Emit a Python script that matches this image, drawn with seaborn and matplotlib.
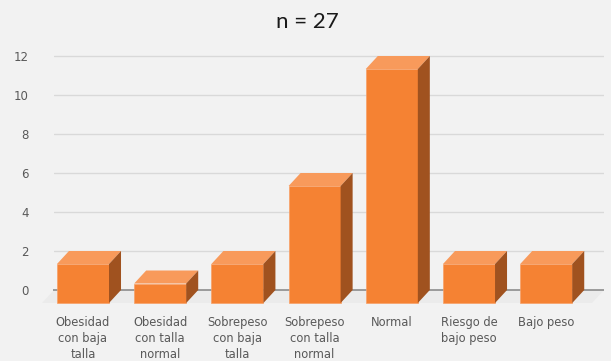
import numpy as np
import pandas as pd
import matplotlib
matplotlib.use("Agg")
import matplotlib.pyplot as plt
import seaborn as sns
from matplotlib.patches import Polygon

# Data
categories = [
    "Obesidad\ncon baja\ntalla",
    "Obesidad\ncon talla\nnormal",
    "Sobrepeso\ncon baja\ntalla",
    "Sobrepeso\ncon talla\nnormal",
    "Normal",
    "Riesgo de\nbajo peso",
    "Bajo peso",
]
counts = [2, 1, 2, 6, 12, 2, 2]
y_ticks = [0, 2, 4, 6, 8, 10, 12]
title = "n = 27"

# Colours for the pseudo-3D bars
FRONT = "#F58233"
TOP = "#F89A5B"
SIDE = "#A0521F"
BG = "#F2F2F2"
FLOOR = "#EBEBEB"
TXT = "#595959"

sns.set_theme(style="white")
plt.rcParams["font.family"] = ["DejaVu Sans"]

W, H = 611, 361
fig = plt.figure(figsize=(W / 100, H / 100), dpi=100, facecolor=BG)

# Axes placed in pixel units of the back wall
left_px, right_px, top_px, bottom_px = 54, 604, 50, 306
zero_px = 290
ax = fig.add_axes([left_px / W, 1 - bottom_px / H,
                   (right_px - left_px) / W, (bottom_px - top_px) / H])
ax.set_facecolor("none")

x_lo, x_hi = -0.531, 6.593
ppu_x = (right_px - left_px) / (x_hi - x_lo)
ppu_y = 19.5
y_lo = -(bottom_px - zero_px) / ppu_y
y_hi = y_lo + (bottom_px - top_px) / ppu_y

# depth of the 3D extrusion, in data units
ddx = 12 / ppu_x
ddy = 13 / ppu_y

df = pd.DataFrame({"categoria": categories, "n": counts})
sns.barplot(data=df, x="categoria", y="n", color=FRONT, width=0.674,
            saturation=1, ax=ax, zorder=3, linewidth=0)

ax.set_xlim(x_lo, x_hi)
ax.set_ylim(y_lo, y_hi)

# back-wall gridlines
for t in y_ticks[1:]:
    ax.axhline(t, color="#D9D9D9", lw=1.0, zorder=0)

# floor
floor = Polygon([(x_lo, 0), (x_hi, 0), (x_hi - ddx, -ddy), (x_lo - ddx, -ddy)],
                closed=True, facecolor=FLOOR, edgecolor="none", zorder=0.5,
                clip_on=False)
ax.add_patch(floor)
ax.plot([x_lo - 0.015, x_hi], [0, 0], color="#8C8C8C", lw=1.2, zorder=1,
        clip_on=False, solid_capstyle="butt")

# turn each flat bar into a box: front face moved forward, top and side added
for p in list(ax.patches):
    if p is floor:
        continue
    x0, w, h = p.get_x(), p.get_width(), p.get_height()
    x1 = x0 + w
    p.set_x(x0 - ddx)
    p.set_y(-ddy)
    p.set_clip_on(False)
    p.set_edgecolor("#F8A066")
    p.set_linewidth(0.5)
    top = Polygon([(x0 - ddx, h - ddy), (x1 - ddx, h - ddy), (x1, h), (x0, h)],
                  closed=True, facecolor=TOP, edgecolor="none", zorder=3,
                  clip_on=False)
    side = Polygon([(x1 - ddx, -ddy), (x1, 0), (x1, h), (x1 - ddx, h - ddy)],
                   closed=True, facecolor=SIDE, edgecolor="none", zorder=3,
                   clip_on=False)
    ax.add_patch(top)
    ax.add_patch(side)

ax.set_yticks(y_ticks)
ax.set_yticklabels([str(t) for t in y_ticks])
ax.set_xticks(np.arange(len(categories)) - ddx)
ax.set_xticklabels(categories, linespacing=1.3)
ax.tick_params(axis="y", length=0, pad=18, labelsize=8.5, labelcolor=TXT)
ax.tick_params(axis="x", length=0, pad=7, labelsize=8.3, labelcolor=TXT)
ax.set_xlabel("")
ax.set_ylabel("")
for s in ax.spines.values():
    s.set_visible(False)

fig.text(307 / W, 1 - 22 / H, title, ha="center", va="center",
         fontsize=16, family=["Lato", "DejaVu Sans"], color="#1A1A1A")

fig.savefig("out.png", dpi=100, facecolor=BG)
